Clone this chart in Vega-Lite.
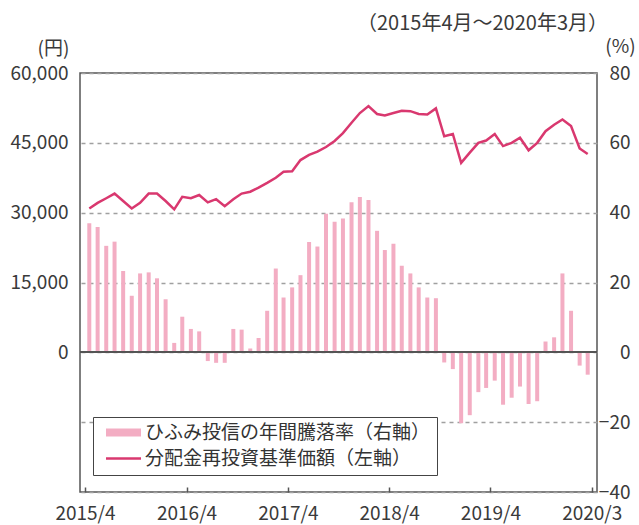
{
  "$schema": "https://vega.github.io/schema/vega-lite/v6.json",
  "width": 517,
  "height": 419,
  "autosize": {"type": "none"},
  "padding": {"left": 80, "top": 73, "right": 42, "bottom": 33},
  "background": "white",
  "config": {
    "font": "Noto Sans CJK JP",
    "view": {"stroke": "#555555", "strokeWidth": 1.5},
    "axis": {"labelFont": "Noto Sans CJK JP", "titleFont": "Noto Sans CJK JP", "labelColor": "#3a3a3a", "titleColor": "#3a3a3a", "domain": false}
  },
  "title": {"text": "（2015年4月～2020年3月）", "anchor": "end", "frame": "group", "fontSize": 20, "fontWeight": "normal", "color": "#3a3a3a", "dx": 11, "offset": 3},
  "data": {"values": [
    {"date": "2015-04-01", "rate": 37.0, "nav": 30900},
    {"date": "2015-05-01", "rate": 35.9, "nav": 32100},
    {"date": "2015-06-01", "rate": 30.5, "nav": 33100},
    {"date": "2015-07-01", "rate": 31.7, "nav": 34100},
    {"date": "2015-08-01", "rate": 23.3, "nav": 32500},
    {"date": "2015-09-01", "rate": 16.2, "nav": 30900},
    {"date": "2015-10-01", "rate": 22.6, "nav": 32100},
    {"date": "2015-11-01", "rate": 22.9, "nav": 34100},
    {"date": "2015-12-01", "rate": 21.2, "nav": 34100},
    {"date": "2016-01-01", "rate": 15.2, "nav": 32500},
    {"date": "2016-02-01", "rate": 2.7, "nav": 30700},
    {"date": "2016-03-01", "rate": 10.2, "nav": 33400},
    {"date": "2016-04-01", "rate": 6.7, "nav": 33100},
    {"date": "2016-05-01", "rate": 6.0, "nav": 33800},
    {"date": "2016-06-01", "rate": -2.5, "nav": 32200},
    {"date": "2016-07-01", "rate": -3.0, "nav": 32900},
    {"date": "2016-08-01", "rate": -3.0, "nav": 31400},
    {"date": "2016-09-01", "rate": 6.7, "nav": 32900},
    {"date": "2016-10-01", "rate": 6.5, "nav": 34100},
    {"date": "2016-11-01", "rate": 1.1, "nav": 34500},
    {"date": "2016-12-01", "rate": 4.1, "nav": 35400},
    {"date": "2017-01-01", "rate": 11.9, "nav": 36400},
    {"date": "2017-02-01", "rate": 24.0, "nav": 37500},
    {"date": "2017-03-01", "rate": 15.7, "nav": 38800},
    {"date": "2017-04-01", "rate": 18.6, "nav": 38900},
    {"date": "2017-05-01", "rate": 22.1, "nav": 41300},
    {"date": "2017-06-01", "rate": 31.6, "nav": 42400},
    {"date": "2017-07-01", "rate": 30.3, "nav": 43100},
    {"date": "2017-08-01", "rate": 39.7, "nav": 44100},
    {"date": "2017-09-01", "rate": 37.4, "nav": 45400},
    {"date": "2017-10-01", "rate": 38.3, "nav": 47100},
    {"date": "2017-11-01", "rate": 43.0, "nav": 49300},
    {"date": "2017-12-01", "rate": 44.5, "nav": 51400},
    {"date": "2018-01-01", "rate": 43.6, "nav": 52900},
    {"date": "2018-02-01", "rate": 34.8, "nav": 51200},
    {"date": "2018-03-01", "rate": 29.3, "nav": 50900},
    {"date": "2018-04-01", "rate": 31.1, "nav": 51400},
    {"date": "2018-05-01", "rate": 24.8, "nav": 51900},
    {"date": "2018-06-01", "rate": 22.6, "nav": 51800},
    {"date": "2018-07-01", "rate": 18.6, "nav": 51200},
    {"date": "2018-08-01", "rate": 15.7, "nav": 51100},
    {"date": "2018-09-01", "rate": 15.5, "nav": 52400},
    {"date": "2018-10-01", "rate": -2.9, "nav": 46400},
    {"date": "2018-11-01", "rate": -4.8, "nav": 46900},
    {"date": "2018-12-01", "rate": -20.3, "nav": 40700},
    {"date": "2019-01-01", "rate": -18.0, "nav": 42900},
    {"date": "2019-02-01", "rate": -11.4, "nav": 45000},
    {"date": "2019-03-01", "rate": -10.2, "nav": 45500},
    {"date": "2019-04-01", "rate": -8.1, "nav": 46900},
    {"date": "2019-05-01", "rate": -15.0, "nav": 44300},
    {"date": "2019-06-01", "rate": -13.0, "nav": 45000},
    {"date": "2019-07-01", "rate": -9.8, "nav": 46100},
    {"date": "2019-08-01", "rate": -14.8, "nav": 43400},
    {"date": "2019-09-01", "rate": -14.0, "nav": 45000},
    {"date": "2019-10-01", "rate": 3.1, "nav": 47500},
    {"date": "2019-11-01", "rate": 4.3, "nav": 48900},
    {"date": "2019-12-01", "rate": 22.6, "nav": 50000},
    {"date": "2020-01-01", "rate": 11.9, "nav": 48600},
    {"date": "2020-02-01", "rate": -3.8, "nav": 43800},
    {"date": "2020-03-01", "rate": -6.4, "nav": 42600}
  ]},
  "layer": [
    {
      "layer": [
        {
          "mark": {"type": "bar", "width": 4, "xOffset": 4.3},
          "encoding": {
            "x": {
              "field": "date", "type": "temporal",
              "scale": {"type": "utc", "nice": false, "domain": [1427846400000, 1585699200000]},
              "axis": {
                "title": null, "grid": false, "labelFlush": false, "labelOverlap": false,
                "values": [1427846400000, 1459468800000, 1491004800000, 1522540800000, 1554076800000, 1585612800000],
                "format": "%Y/%-m",
                "labelFontSize": 19, "ticks": true, "tickSize": -5, "tickColor": "#555555", "tickWidth": 1.5, "labelPadding": 17
              }
            },
            "y": {
              "field": "rate", "type": "quantitative",
              "scale": {"domain": [-40, 80], "nice": false, "zero": false},
              "axis": {
                "orient": "right", "title": "(%)", "titleAngle": 0, "titleX": 23, "titleY": -27, "titleAlign": "center", "titleBaseline": "middle", "titleFontSize": 19, "titleFontWeight": "normal",
                "values": [-40, -20, 0, 20, 40, 60, 80], "ticks": false, "labelAlign": "right", "labelPadding": 33, "labelFontSize": 19,
                "grid": true, "gridColor": "#a0a0a0", "gridDash": [4, 4], "gridWidth": 1.5
              }
            },
            "color": {
              "datum": "ひふみ投信の年間騰落率（右軸）", "type": "nominal",
              "scale": {"domain": ["ひふみ投信の年間騰落率（右軸）", "分配金再投資基準価額（左軸）"], "range": ["#f3adc3", "#d9386f"]},
              "legend": {
                "title": null, "orient": "none", "legendX": 13, "legendY": 344,
                "fillColor": "white", "strokeColor": "#444444", "padding": 6,
                "labelFontSize": 19, "labelColor": "#333333", "labelLimit": 500, "labelFont": "Noto Sans CJK JP",
                "symbolType": "stroke", "symbolSize": 144, "symbolOffset": 15, "labelOffset": 12, "rowPadding": 0,
                "encode": {"symbols": {"update": {
                  "size": {"value": 1225},
                  "fill": {"value": "transparent"},
                  "stroke": {"signal": "datum.index === 0 ? '#ea8cab' : '#d9386f'"},
                  "strokeWidth": {"signal": "datum.index === 0 ? 8 : 2.5"},
                  "opacity": {"value": 1}
                }}}
              }
            }
          }
        },
        {
          "mark": {"type": "rule", "color": "#555555", "strokeWidth": 1.5},
          "encoding": {"y": {"datum": 0, "type": "quantitative"}}
        }
      ]
    },
    {
      "mark": {"type": "line", "strokeWidth": 2.5, "xOffset": 4.3},
      "encoding": {
        "x": {"field": "date", "type": "temporal"},
        "y": {
          "field": "nav", "type": "quantitative",
          "scale": {"domain": [-30000, 60000], "nice": false, "zero": false},
          "axis": {
            "orient": "left", "title": "(円)", "titleAngle": 0, "titleX": -27, "titleY": -25, "titleAlign": "center", "titleBaseline": "middle", "titleFontSize": 19, "titleFontWeight": "normal",
            "values": [0, 15000, 30000, 45000, 60000], "format": ",d", "ticks": false, "labelPadding": 12, "labelFontSize": 19, "grid": false
          }
        },
        "color": {"datum": "分配金再投資基準価額（左軸）", "type": "nominal"}
      }
    }
  ],
  "resolve": {"scale": {"y": "independent"}}
}
